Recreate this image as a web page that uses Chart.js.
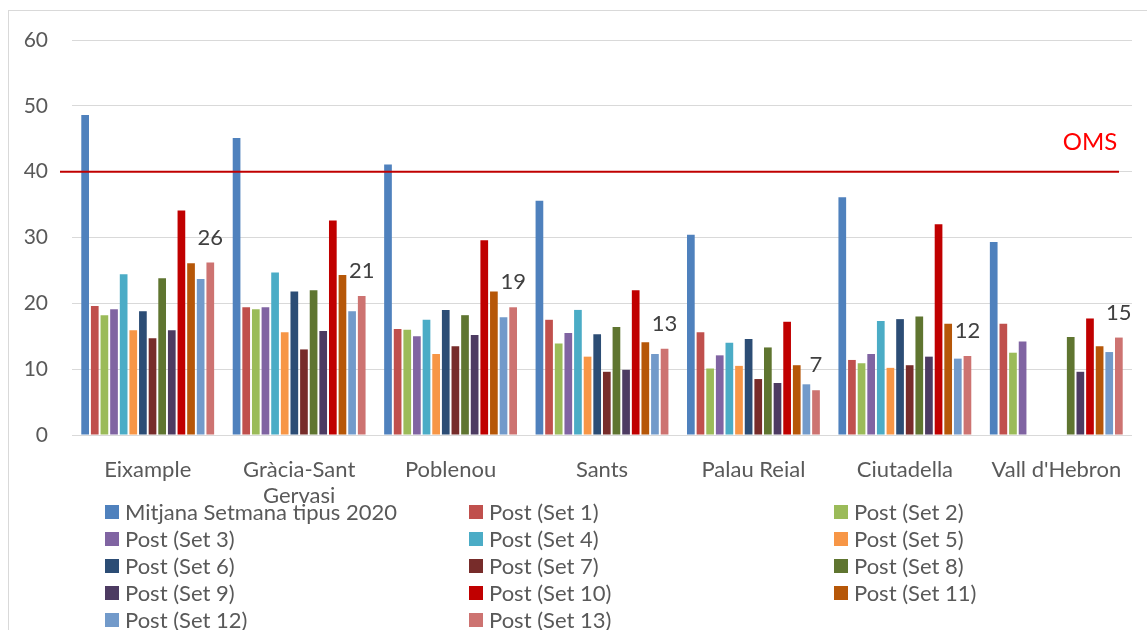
<!DOCTYPE html>
<html>
<head>
<meta charset="utf-8">
<script src="https://cdn.jsdelivr.net/npm/chart.js@4.4.1/dist/chart.umd.min.js"></script>
<style>
  html, body { margin: 0; padding: 0; background: #fff; }
  #wrap { position: relative; width: 1147px; height: 630px; }
</style>
</head>
<body>
<div id="wrap"><canvas id="chart" width="1147" height="630"></canvas></div>
<script>
// categories (stations)
const stations = ['Eixample', ['Gràcia-Sant', 'Gervasi'], 'Poblenou', 'Sants', 'Palau Reial', 'Ciutadella', "Vall d'Hebron"];

const seriesNames = [
  'Mitjana Setmana tipus 2020', 'Post (Set 1)', 'Post (Set 2)', 'Post (Set 3)', 'Post (Set 4)',
  'Post (Set 5)', 'Post (Set 6)', 'Post (Set 7)', 'Post (Set 8)', 'Post (Set 9)',
  'Post (Set 10)', 'Post (Set 11)', 'Post (Set 12)', 'Post (Set 13)'
];

const seriesColors = [
  '#4F81BD', '#C0504D', '#9BBB59', '#8064A2', '#4BACC6', '#F79646', '#2C4D75',
  '#772C2A', '#5F7530', '#4D3B62', '#C00000', '#B65708', '#729ACA', '#CD7371'
];

// NO2 values per series, one entry per station
const mitjana2020 = [48.6, 45.1, 41.1, 35.6, 30.4, 36.1, 29.3];
const set1  = [19.6, 19.4, 16.1, 17.5, 15.6, 11.4, 16.9];
const set2  = [18.2, 19.1, 16.0, 13.9, 10.1, 10.9, 12.5];
const set3  = [19.1, 19.4, 15.0, 15.5, 12.1, 12.3, 14.2];
const set4  = [24.4, 24.7, 17.5, 19.0, 14.0, 17.3, null];
const set5  = [15.9, 15.6, 12.3, 11.9, 10.5, 10.2, null];
const set6  = [18.8, 21.8, 19.0, 15.3, 14.6, 17.6, null];
const set7  = [14.7, 13.0, 13.5, 9.6, 8.5, 10.6, null];
const set8  = [23.8, 22.0, 18.2, 16.4, 13.3, 18.0, 14.9];
const set9  = [15.9, 15.8, 15.2, 9.9, 7.9, 11.9, 9.6];
const set10 = [34.1, 32.6, 29.6, 22.0, 17.2, 32.0, 17.7];
const set11 = [26.1, 24.3, 21.8, 14.1, 10.6, 16.9, 13.5];
const set12 = [23.7, 18.8, 17.9, 12.3, 7.7, 11.6, 12.6];
const set13 = [26.2, 21.1, 19.4, 13.1, 6.8, 12.0, 14.8];

const allSeries = [mitjana2020, set1, set2, set3, set4, set5, set6, set7, set8, set9, set10, set11, set12, set13];

const yTicks = [0, 10, 20, 30, 40, 50, 60];
const omsLimit = 40;

const FONT = 'Lato, "Open Sans", sans-serif';
const TEXT = '#595959';

const datasets = allSeries.map((vals, i) => ({
  label: seriesNames[i],
  data: vals,
  backgroundColor: seriesColors[i],
  borderWidth: 0,
  categoryPercentage: 0.89,
  barPercentage: 0.8
}));

// frame, OMS line, labels on last series, legend
const extras = {
  id: 'extras',
  beforeDraw(chart) {
    const ctx = chart.ctx;
    ctx.save();
    ctx.strokeStyle = '#d9d9d9';
    ctx.lineWidth = 1;
    ctx.strokeRect(8.5, 10.5, 1300, 800);
    ctx.restore();
  },
  afterDatasetsDraw(chart) {
    const ctx = chart.ctx;
    const y = chart.scales.y.getPixelForValue(omsLimit);
    ctx.save();
    ctx.strokeStyle = '#C00000';
    ctx.lineWidth = 2;
    ctx.beginPath();
    ctx.moveTo(60, y);
    ctx.lineTo(1119, y);
    ctx.stroke();
    ctx.fillStyle = '#FF0000';
    ctx.font = '24px ' + FONT;
    ctx.textAlign = 'center';
    ctx.textBaseline = 'middle';
    ctx.fillText('OMS', 1090, y - 29);

    // value labels on the last series
    const last = chart.data.datasets.length - 1;
    const meta = chart.getDatasetMeta(last);
    ctx.fillStyle = '#404040';
    ctx.font = '22px ' + FONT;
    meta.data.forEach((bar, i) => {
      const v = chart.data.datasets[last].data[i];
      if (v == null) return;
      ctx.fillText(Math.round(v), bar.x, bar.y - 25);
    });

    // legend: 3 columns
    const colX = [105, 469, 834];
    const rowY = [512, 539, 566, 593, 620];
    ctx.textAlign = 'left';
    ctx.font = '22px ' + FONT;
    chart.data.datasets.forEach((ds, i) => {
      const cx = colX[i % 3];
      const cy = rowY[Math.floor(i / 3)];
      ctx.fillStyle = ds.backgroundColor;
      ctx.fillRect(cx, cy - 7, 14, 14);
      ctx.fillStyle = TEXT;
      ctx.fillText(ds.label, cx + 20, cy + 1);
    });
    ctx.restore();
  }
};

new Chart(document.getElementById('chart'), {
  type: 'bar',
  data: { labels: stations, datasets },
  options: {
    responsive: false,
    animation: false,
    layout: { padding: { top: 40, right: 15, left: 0, bottom: 0 } },
    plugins: { legend: { display: false }, tooltip: { enabled: false } },
    scales: {
      x: {
        grid: { display: false },
        border: { display: false },
        ticks: {
          color: TEXT,
          font: { family: FONT, size: 22, lineHeight: 1.22 },
          padding: 13,
          maxRotation: 0,
          autoSkip: false
        },
        afterFit(scale) { scale.height = 195; }
      },
      y: {
        min: 0,
        max: 60,
        afterBuildTicks(scale) { scale.ticks = yTicks.map(v => ({ value: v })); },
        grid: { color: '#d9d9d9', lineWidth: 1, drawTicks: false },
        border: { display: false },
        ticks: {
          color: TEXT,
          font: { family: FONT, size: 21 },
          padding: 24
        },
        afterFit(scale) { scale.width = 72; }
      }
    }
  },
  plugins: [extras]
});
</script>
</body>
</html>
